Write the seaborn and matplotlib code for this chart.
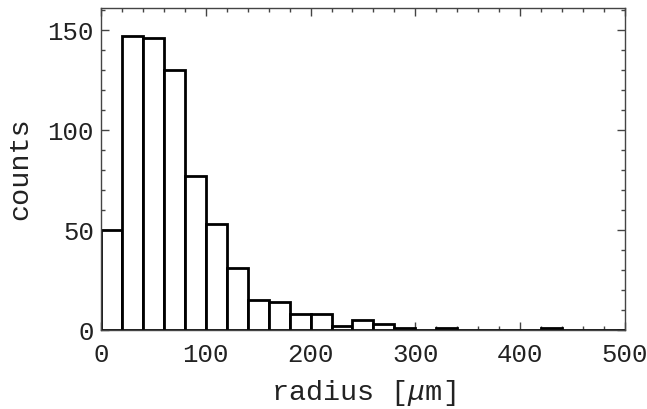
import numpy as np
import pandas as pd
import matplotlib
matplotlib.use("Agg")
import matplotlib.pyplot as plt
import seaborn as sns
from matplotlib.ticker import MultipleLocator

# data: histogram of radii, bins of width 20 um
bin_edges = list(range(0, 520, 20))
counts = [50, 147, 146, 130, 77, 53, 31, 15, 14, 8, 8, 2, 5, 3, 1, 0, 1, 0, 0, 0, 0, 1, 0, 0, 0]
x_ticks = [0, 100, 200, 300, 400, 500]
y_ticks = [0, 50, 100, 150]

centers = [(a + b) / 2 for a, b in zip(bin_edges[:-1], bin_edges[1:])]
df = pd.DataFrame({"radius": centers, "count": counts})

sns.set_style("ticks")
plt.rcParams["font.family"] = ["Liberation Mono", "DejaVu Sans Mono"]
plt.rcParams["mathtext.fontset"] = "custom"
plt.rcParams["mathtext.it"] = "Liberation Mono:italic"
plt.rcParams["mathtext.rm"] = "Liberation Mono"

fig = plt.figure(figsize=(6.47, 4.09), dpi=100)
ax = fig.add_axes([0.156, 0.193, 0.810, 0.787])

sns.histplot(data=df, x="radius", weights="count", bins=bin_edges,
             facecolor="white", edgecolor="black", linewidth=2.0, alpha=1,
             ax=ax)

ax.set_xlim(0, 500)
ax.set_ylim(0, 161)
ax.set_xticks(x_ticks)
ax.set_yticks(y_ticks)
ax.xaxis.set_minor_locator(MultipleLocator(20))
ax.yaxis.set_minor_locator(MultipleLocator(10))
ax.tick_params(which="both", direction="in", top=True, right=True, color="#444444", width=1)
ax.tick_params(which="major", length=6, labelsize=18.5, labelcolor="#222222")
ax.tick_params(axis="x", which="major", pad=9)
ax.tick_params(axis="y", which="major", pad=5)
ax.tick_params(which="minor", length=3)
for s in ax.spines.values():
    s.set_color("#444444")
    s.set_linewidth(1.0)
    s.set_visible(True)

ax.set_xlabel(r"radius [$\mu$m]", fontsize=20.5, labelpad=8, color="#222222")
ax.set_ylabel("counts", fontsize=20.5, labelpad=10, color="#222222")

fig.savefig("out.png", dpi=100)
